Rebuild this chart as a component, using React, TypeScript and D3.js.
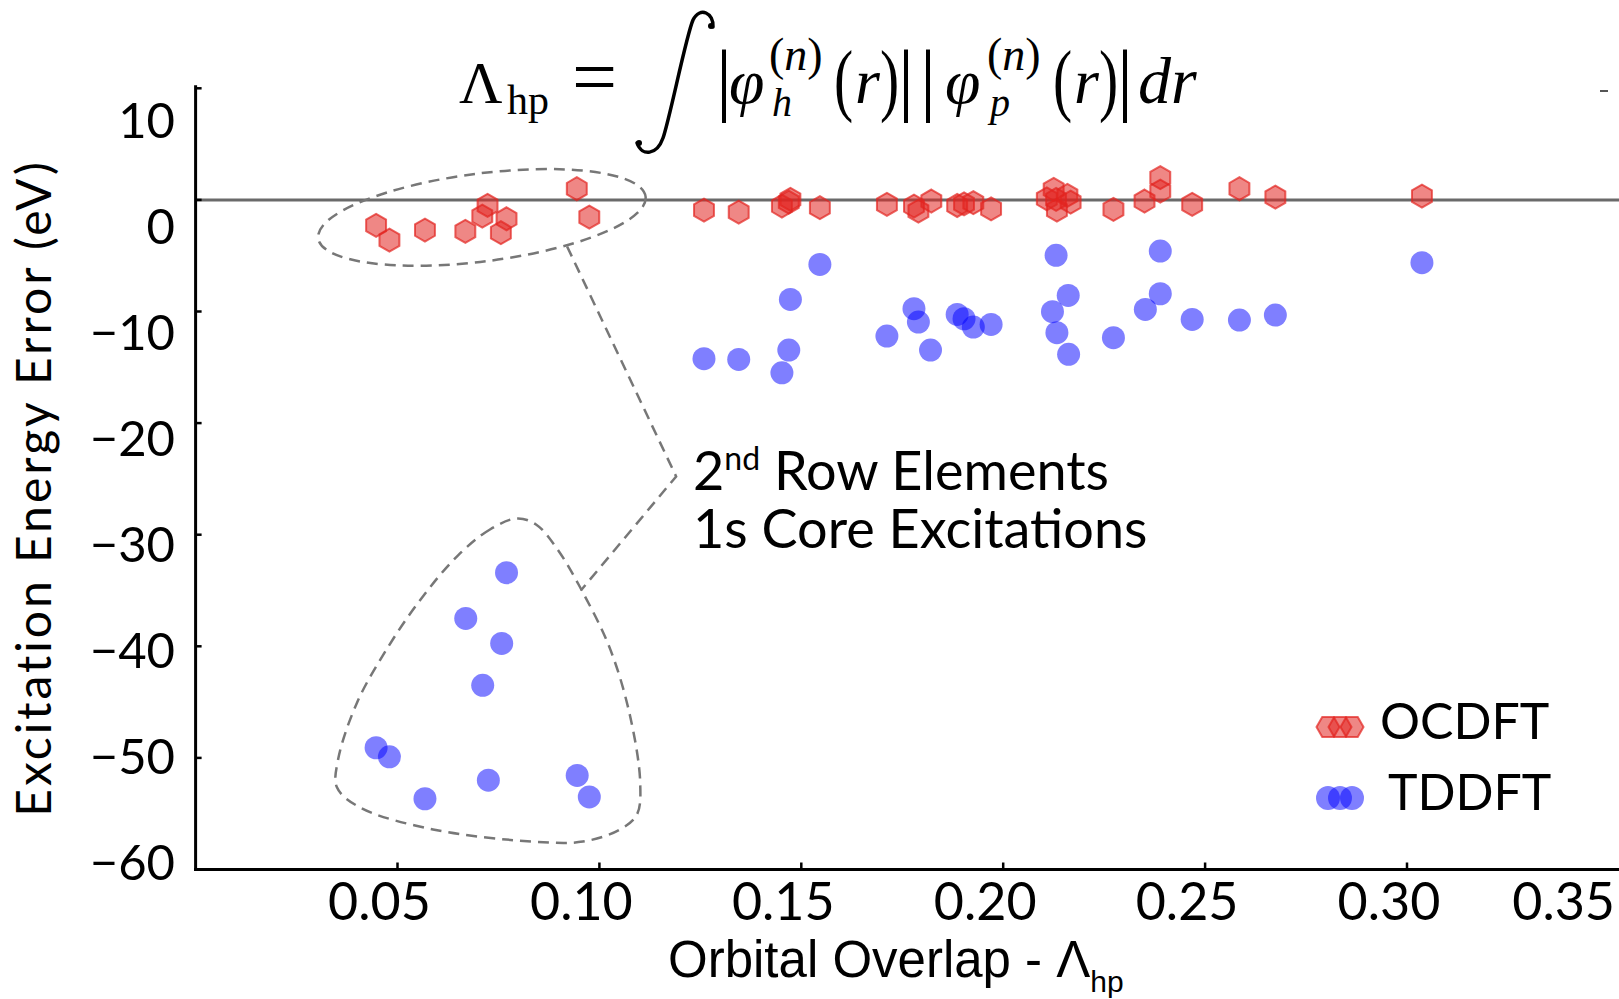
import * as d3 from "d3";

// axis ticks and labels
const xTicks = [0.05, 0.1, 0.15, 0.2, 0.25, 0.3, 0.35];
const xTickLabels = ["0.05", "0.10", "0.15", "0.20", "0.25", "0.30", "0.35"];
const yTicks = [10, 0, -10, -20, -30, -40, -50, -60];
const yTickLabels = ["10", "0", "\u221210", "\u221220", "\u221230", "\u221240", "\u221250", "\u221260"];

// [orbital overlap, excitation energy error (eV)]
const ocdftPoints = [
  [0.0447, -2.28], [0.048, -3.6], [0.0568, -2.7], [0.0668, -2.82], [0.071, -1.45],
  [0.0723, -0.49], [0.0756, -2.94], [0.077, -1.69], [0.0944, 1.0], [0.0975, -1.54],
  [0.1259, -0.91], [0.1345, -1.09], [0.1452, -0.55], [0.1469, -0.2], [0.1473, 0.05],
  [0.1546, -0.7], [0.1712, -0.4], [0.1779, -0.55], [0.179, -1.0], [0.1822, -0.1],
  [0.1886, -0.5], [0.1903, -0.35], [0.1926, -0.25], [0.197, -0.8], [0.2108, 0.1],
  [0.2125, 0.94], [0.2131, 0.04], [0.2133, -0.91], [0.2159, 0.4], [0.2167, -0.2],
  [0.2273, -0.85], [0.235, -0.1], [0.2389, 1.99], [0.2389, 0.79], [0.2468, -0.4],
  [0.2585, 1.0], [0.2674, 0.25], [0.3037, 0.34],
];

const tddftPoints = [
  [0.0447, -49.09], [0.048, -49.9], [0.0568, -53.66], [0.0669, -37.5], [0.0711, -43.5],
  [0.0725, -52.0], [0.0758, -39.74], [0.077, -33.4], [0.0945, -51.57], [0.0975, -53.5],
  [0.1259, -14.23], [0.1345, -14.29], [0.1452, -15.49], [0.1469, -13.46], [0.1473, -8.92],
  [0.1546, -5.78], [0.1712, -12.2], [0.1779, -9.75], [0.179, -10.95], [0.182, -13.46],
  [0.1886, -10.26], [0.1903, -10.65], [0.1926, -11.4], [0.197, -11.16], [0.2122, -10.02],
  [0.2131, -4.97], [0.2133, -11.9], [0.2161, -8.56], [0.2162, -13.84], [0.2273, -12.35],
  [0.2352, -9.81], [0.2389, -4.59], [0.2389, -8.41], [0.2468, -10.71], [0.2585, -10.77],
  [0.2674, -10.32], [0.3037, -5.63],
];

// dashed outline around the 2nd row TDDFT points (data units)
const clusterOutline = [
  [0.0796, -28.54], [0.0729, -29.53], [0.065, -31.85], [0.0561, -35.62], [0.0476, -40.1],
  [0.04, -45.03], [0.0353, -50.13], [0.035, -52.64], [0.0407, -54.44], [0.0588, -56.41],
  [0.0836, -57.5], [0.0959, -57.5], [0.1051, -56.41], [0.1093, -55.07], [0.1101, -52.2],
  [0.1076, -46.25], [0.1027, -40.28], [0.0959, -35.17], [0.0893, -31.14], [0.0843, -29.08],
];
// leader line from the ellipse to the triangle
const connector = [[0.092, -4.17], [0.119, -24.78], [0.0954, -35.0]];
const ellipseCenter = [0.0709, -1.57];

const legendItems = ["OCDFT", "TDDFT"];

const RED = "rgb(226,36,32)";
const BLUE = "rgb(0,0,255)";

const hexPath = (r: number) =>
  d3.line()(d3.range(6).map((i) => {
    const a = (i * Math.PI) / 3;
    return [r * Math.sin(a), -r * Math.cos(a)] as [number, number];
  })) + "Z";

function Paren({ x, ch }: { x: number; ch: string }) {
  // tall, narrow delimiters like the typeset original
  return (
    <text transform={`translate(${x}, 106) scale(0.72, 1)`} fontSize={80}>
      {ch}
    </text>
  );
}

function App() {
  const width = 1619;
  const height = 999;

  const x = d3.scaleLinear().domain([0, 0.35]).range([195.6, 1608.9]);
  const y = d3.scaleLinear().domain([-60, 10]).range([869.5, 88.3]);
  // labels in the original are set slightly off the tick marks
  const yLabel = d3.scaleLinear().domain([10, -60]).range([121, 863]);

  const hex = hexPath(11.5);
  const outline = d3
    .line()
    .x((d) => x(d[0]))
    .y((d) => y(d[1]))
    .curve(d3.curveCatmullRomClosed.alpha(0.5));
  const leader = d3.line().x((d) => x(d[0])).y((d) => y(d[1]));

  const serif = "'Liberation Serif', 'Times New Roman', serif";
  const lato = "Lato, 'Noto Sans', sans-serif";

  return (
    <svg
      width={width}
      height={height}
      style={{ position: "absolute", left: 0, top: 0, background: "#fff" }}
    >
      {/* formula title */}
      <g fill="#000" fontFamily={serif}>
        <text x={459} y={103} fontSize={60}>Λ</text>
        <text x={507} y={114} fontSize={42}>hp</text>
        <text x={572} y={104} fontSize={80}>=</text>
        <path
          d="M 713 27 C 714 13, 700 6, 693 20 C 686 36, 670 118, 663 138 C 657 155, 642 157, 637 143"
          fill="none"
          stroke="#000"
          strokeWidth={3.5}
          strokeLinecap="round"
        />
        <circle cx={711} cy={26} r={3} />
        <circle cx={639} cy={143} r={3} />
        <text x={716} y={106} fontSize={80}>|</text>
        <text x={729} y={103} fontSize={64} fontStyle="italic">φ</text>
        <text x={769} y={70} fontSize={46}>(<tspan fontStyle="italic">n</tspan>)</text>
        <text x={772} y={116} fontSize={40} fontStyle="italic">h</text>
        <Paren x={834} ch="(" />
        <text x={855} y={103} fontSize={64} fontStyle="italic">r</text>
        <Paren x={880} ch=")" />
        <text x={898} y={106} fontSize={80}>|</text>
        <text x={920} y={106} fontSize={80}>|</text>
        <text x={945} y={103} fontSize={64} fontStyle="italic">φ</text>
        <text x={987} y={70} fontSize={46}>(<tspan fontStyle="italic">n</tspan>)</text>
        <text x={990} y={116} fontSize={40} fontStyle="italic">p</text>
        <Paren x={1053} ch="(" />
        <text x={1074} y={103} fontSize={64} fontStyle="italic">r</text>
        <Paren x={1099} ch=")" />
        <text x={1117} y={106} fontSize={80}>|</text>
        <text x={1138} y={103} fontSize={66} fontStyle="italic">dr</text>
      </g>

      {/* zero line */}
      <line x1={x(0)} x2={x(0.3535)} y1={y(0)} y2={y(0)} stroke="#6a6a6a" strokeWidth={3} />
      <line x1={1600} x2={1608} y1={91} y2={91} stroke="#555" strokeWidth={2} />

      {/* axes */}
      <g stroke="#000" strokeWidth={3} fill="none">
        <line x1={x(0)} x2={x(0)} y1={y(10) - 3} y2={y(-60) + 1.5} />
        <line x1={x(0) - 1.5} x2={x(0.3535)} y1={y(-60)} y2={y(-60)} />
      </g>
      <g stroke="#000" strokeWidth={2.5}>
        {xTicks.slice(0, 6).map((t) => (
          <line key={t} x1={x(t)} x2={x(t)} y1={y(-60)} y2={y(-60) - 7} />
        ))}
        {yTicks.map((t) => (
          <line key={t} x1={x(0)} x2={x(0) + 6} y1={y(t)} y2={y(t)} />
        ))}
      </g>
      <g fontFamily={lato} fontSize={52} fill="#000">
        {xTicks.map((t, i) =>
          i < xTicks.length - 1 ? (
            <text key={t} x={x(t) - 18} y={920} textAnchor="middle">{xTickLabels[i]}</text>
          ) : (
            <text key={t} x={width - 4} y={920} textAnchor="end">{xTickLabels[i]}</text>
          )
        )}
      </g>
      <g fontFamily={lato} fontSize={49} fill="#000" textAnchor="end">
        {yTicks.map((t, i) => (
          <text key={t} x={175} y={yLabel(t) + 17}>{yTickLabels[i]}</text>
        ))}
      </g>

      {/* axis titles */}
      <text
        x={668}
        y={977}
        fontFamily="'Liberation Sans', Arial, sans-serif"
        fontSize={51}
        fill="#000"
      >
        Orbital Overlap - Λ<tspan fontSize={30} dy={15}>hp</tspan>
      </text>
      <text
        transform={`translate(51, 488) rotate(-90)`}
        textAnchor="middle"
        fontFamily={lato}
        fontSize={48}
        letterSpacing={3}
        fill="#000"
      >
        Excitation Energy Error (eV)
      </text>

      {/* annotations */}
      <g fill="none" stroke="#777" strokeWidth={2.5} strokeDasharray="11 7">
        <ellipse
          cx={0}
          cy={0}
          rx={165}
          ry={44}
          transform={`translate(${x(ellipseCenter[0])}, ${y(ellipseCenter[1])}) rotate(-7.25)`}
        />
        <path d={outline(clusterOutline as [number, number][]) || ""} />
        <path d={leader(connector as [number, number][]) || ""} />
      </g>
      <g fontFamily={lato} fontSize={54} fill="#000">
        <text x={693} y={490}>
          2<tspan fontSize={32} dy={-20}>nd</tspan>
          <tspan dy={20}> Row Elements</tspan>
        </text>
        <text x={693} y={548}>1s Core Excitations</text>
      </g>

      {/* OCDFT */}
      <g>
        {ocdftPoints.map((p, i) => (
          <path
            key={i}
            d={hex}
            transform={`translate(${x(p[0])}, ${y(p[1])})`}
            fill={RED}
            fillOpacity={0.55}
            stroke={RED}
            strokeOpacity={0.7}
            strokeWidth={2}
          />
        ))}
      </g>

      {/* TDDFT */}
      <g>
        {tddftPoints.map((p, i) => (
          <circle key={i} cx={x(p[0])} cy={y(p[1])} r={11.5} fill={BLUE} fillOpacity={0.5} />
        ))}
      </g>

      {/* legend */}
      {legendItems.map((name, i) => {
        const cy = 727 + i * 71;
        return (
          <g key={name}>
            {[-12, 0, 12].map((dx) =>
              i === 0 ? (
                <path
                  key={dx}
                  d={hex}
                  transform={`translate(${1340 + dx}, ${cy}) rotate(90)`}
                  fill={RED}
                  fillOpacity={0.55}
                  stroke={RED}
                  strokeOpacity={0.7}
                  strokeWidth={2}
                />
              ) : (
                <circle key={dx} cx={1340 + dx} cy={cy} r={12} fill={BLUE} fillOpacity={0.5} />
              )
            )}
            <text
              x={i === 0 ? 1380 : 1388}
              y={cy + 12}
              fontFamily={lato}
              fontSize={50}
              fill="#000"
            >
              {name}
            </text>
          </g>
        );
      })}
    </svg>
  );
}

export default App;
